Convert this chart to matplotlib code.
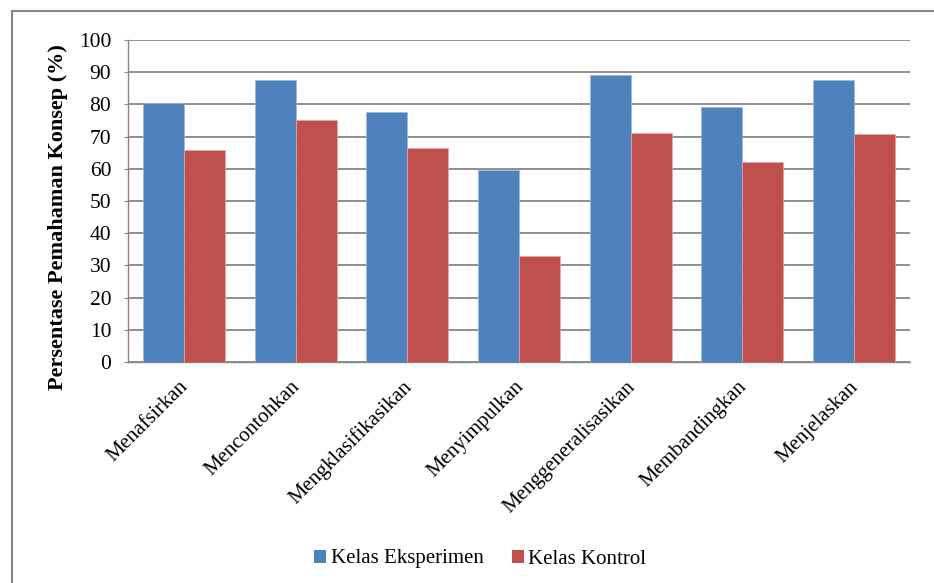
import matplotlib
matplotlib.use("Agg")
import matplotlib.pyplot as plt
import matplotlib.transforms as mtransforms
import numpy as np
from matplotlib.lines import Line2D
from matplotlib.patches import Patch

categories = ["Menafsirkan", "Mencontohkan", "Mengklasifikasikan", "Menyimpulkan",
              "Menggeneralisasikan", "Membandingkan", "Menjelaskan"]
eksperimen = [80.4, 87.5, 77.5, 59.6, 89.1, 79.3, 87.6]
kontrol = [65.9, 75.2, 66.4, 32.9, 71.1, 62.2, 70.9]
series_names = ["Kelas Eksperimen", "Kelas Kontrol"]
y_ticks = list(range(0, 101, 10))

blue = "#4F81BD"
red = "#C0504D"
grid_color = "#868686"

plt.rcParams["font.family"] = ["Liberation Serif", "DejaVu Serif"]

fig = plt.figure(figsize=(9.34, 5.83), dpi=100)
W, H = 934, 583
ax = fig.add_axes([128 / W, 1 - 362 / H, (910 - 128) / W, (362 - 40) / H])

x = np.arange(len(categories))
bw = 0.367
ax.bar(x - bw / 2, eksperimen, bw, color=blue, edgecolor="#9DB8DC", linewidth=0.5, zorder=3)
ax.bar(x + bw / 2, kontrol, bw, color=red, edgecolor="#E3A9A7", linewidth=0.5, zorder=3)

ax.set_xlim(-0.5, len(categories) - 0.5)
ax.set_ylim(0, 100)
ax.set_yticks(y_ticks)
ax.tick_params(axis="y", labelsize=15.5, length=3, color=grid_color, pad=9)
ax.tick_params(axis="x", length=0, pad=11)
ax.set_xticks(x)
ax.set_xticklabels(categories, rotation=45, ha="right", va="top",
                   rotation_mode="anchor", fontsize=15)
shift = mtransforms.ScaledTranslation(-5 / 100, 0, fig.dpi_scale_trans)
for lbl in ax.get_xticklabels():
    lbl.set_transform(lbl.get_transform() + shift)

ax.yaxis.grid(True, color=grid_color, linewidth=1.3, zorder=0)
ax.set_axisbelow(True)
for side in ["top", "right"]:
    ax.spines[side].set_visible(False)
for side in ["left", "bottom"]:
    ax.spines[side].set_color(grid_color)
    ax.spines[side].set_linewidth(1.0)

ax.set_ylabel("Persentase Pemahaman Konsep (%)", fontsize=16, fontweight="bold")
ax.yaxis.set_label_coords(-0.077, 0.45)

handles = [Patch(facecolor=blue), Patch(facecolor=red)]
fig.legend(handles, series_names, loc="center", bbox_to_anchor=(0.514, 1 - 559 / H),
           ncol=2, frameon=False, fontsize=15, handlelength=0.58, handleheight=0.58,
           handletextpad=0.2, columnspacing=1.35)

# outer chart border (only top and left visible in the crop)
fig.add_artist(Line2D([12 / W, 1], [1 - 11 / H, 1 - 11 / H], color=grid_color, linewidth=1.5))
fig.add_artist(Line2D([12 / W, 12 / W], [0, 1 - 11 / H], color=grid_color, linewidth=1.5))

fig.savefig("out.png", dpi=100)
